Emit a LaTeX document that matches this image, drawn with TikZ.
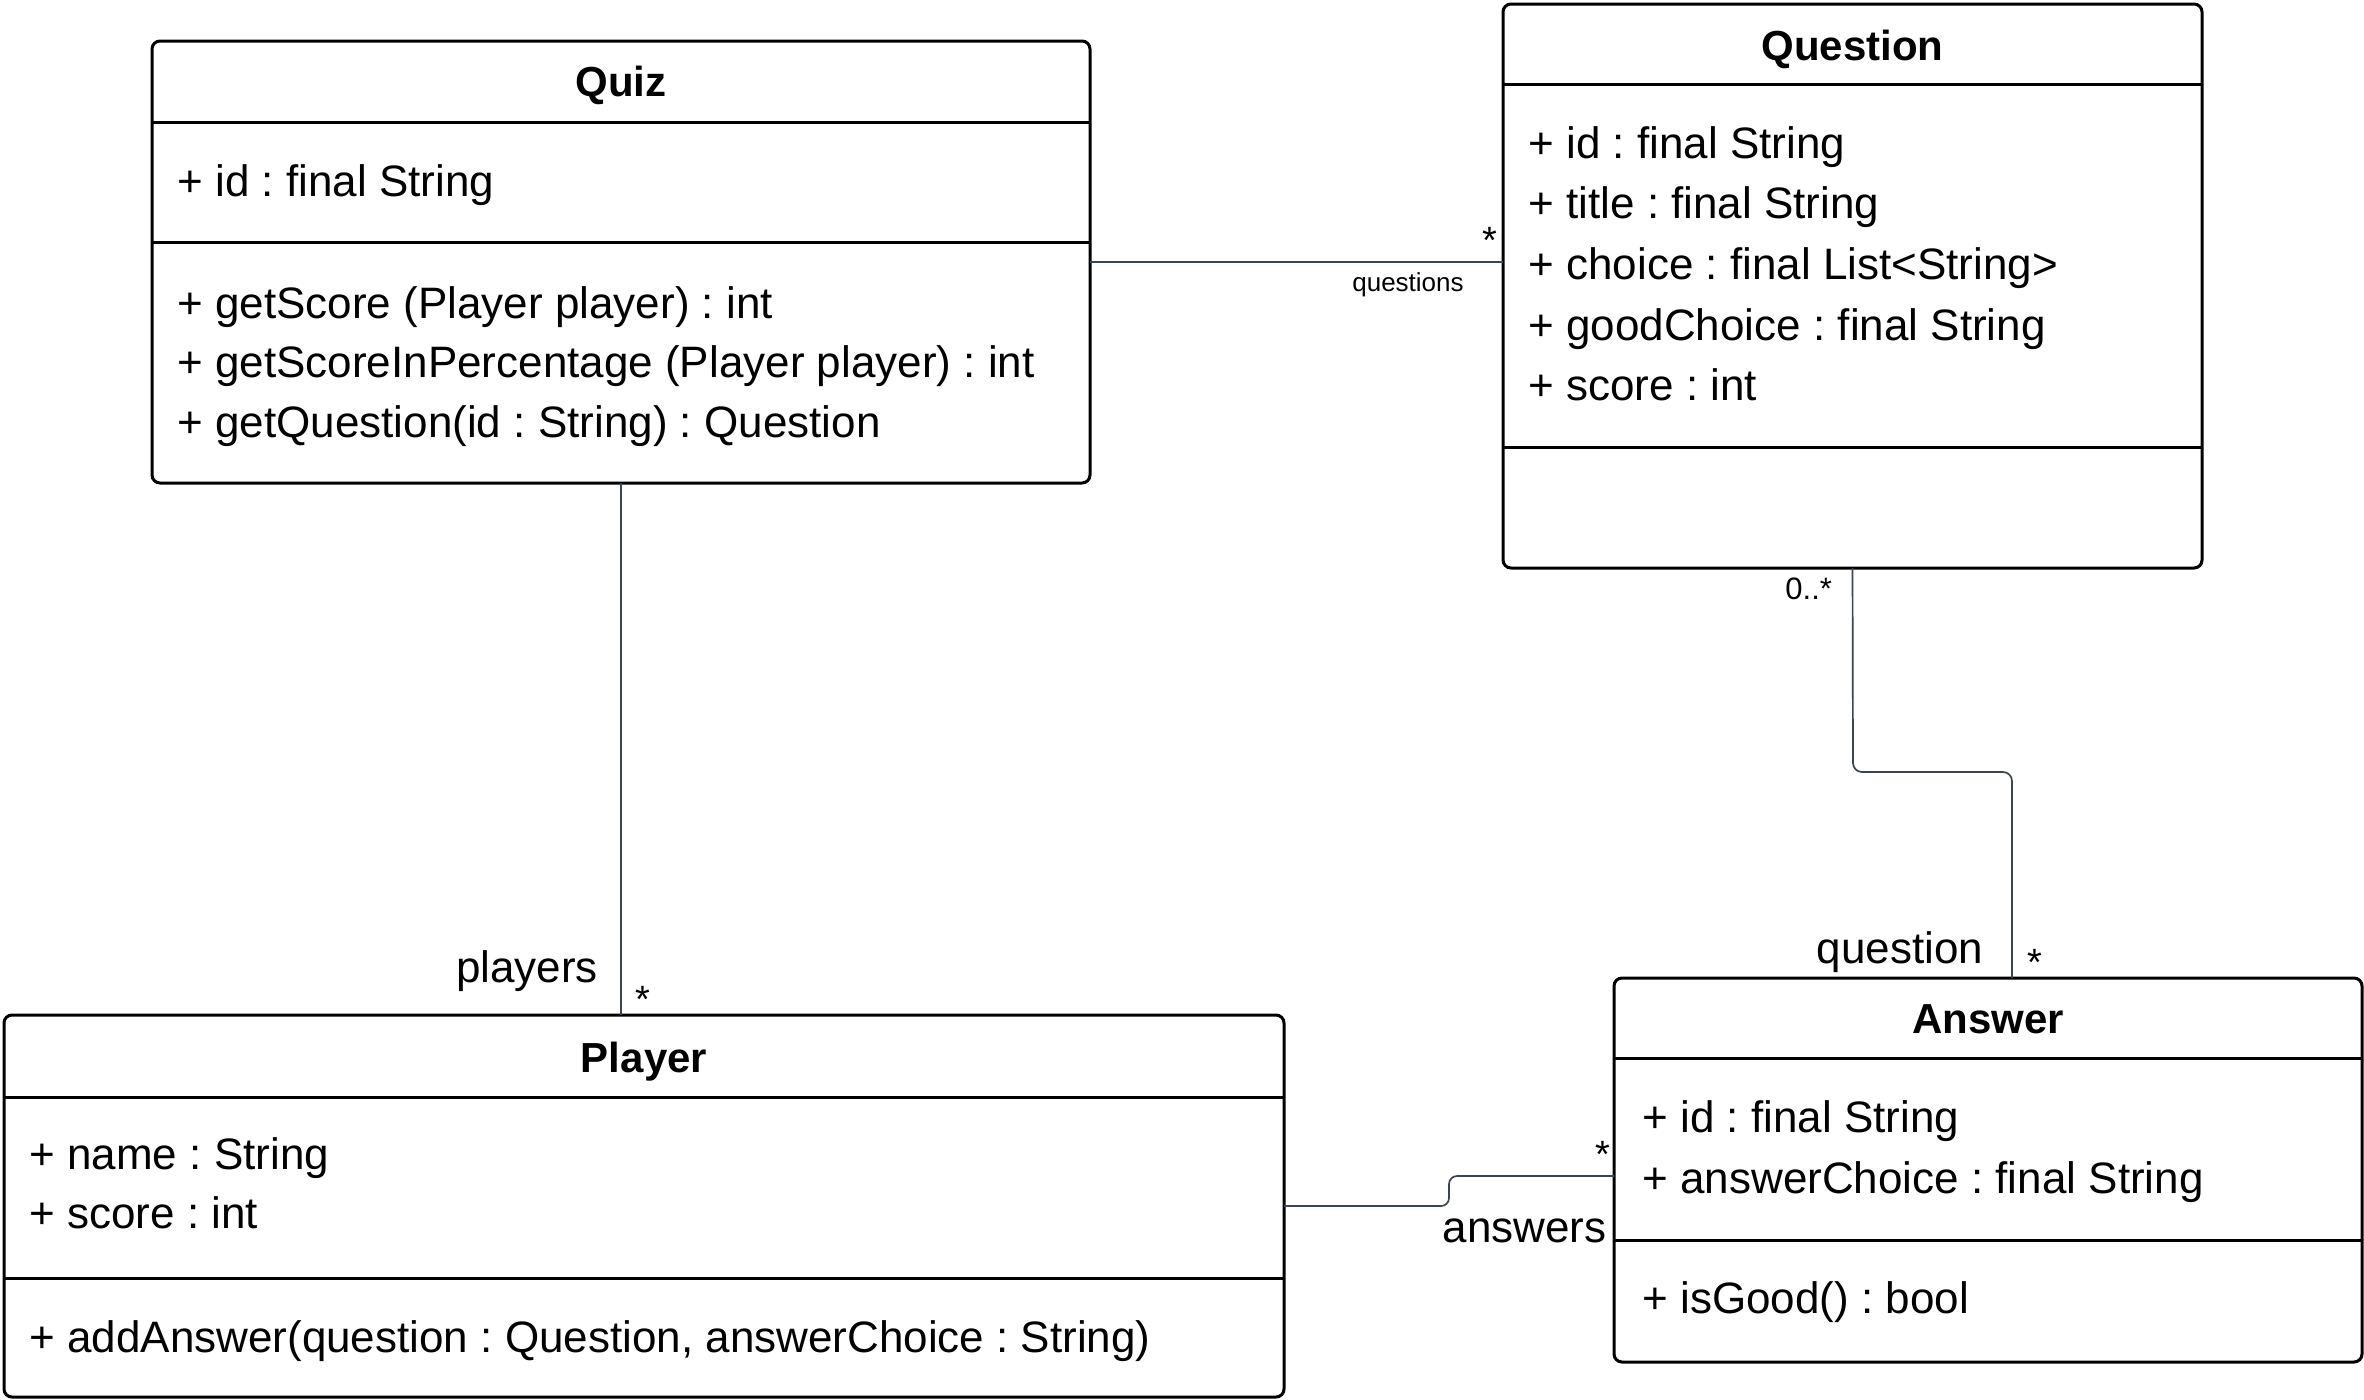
\documentclass[tikz,border=0pt]{standalone}
\usepackage{fontspec}
\setmainfont{Liberation Sans}
\frenchspacing
\definecolor{conncol}{HTML}{3D4451}
\tikzset{
  classbox/.style={draw=black, line width=1.5pt, fill=white, rounded corners=4pt, inner sep=0pt, outer sep=0pt, anchor=north west},
  sepline/.style={draw=black, line width=1.5pt},
  conn/.style={draw=conncol, line width=0.85pt, rounded corners=4.5pt},
  attr/.style={font=\fontsize{22pt}{26pt}\selectfont, inner sep=0pt, anchor=base west},
  classtitle/.style={font=\fontsize{21pt}{25pt}\selectfont\bfseries, inner sep=0pt, anchor=base},
  role/.style={font=\fontsize{22pt}{26pt}\selectfont, inner sep=0pt, anchor=base},
  smallrole/.style={font=\fontsize{13pt}{15pt}\selectfont, inner sep=0pt, anchor=base},
  mult/.style={font=\fontsize{19pt}{21pt}\selectfont, inner sep=0pt, anchor=base},
}
\begin{document}
\begin{tikzpicture}[x=0.5pt,y=-0.5pt]
\useasboundingbox[fill=white] (0,0) rectangle (2364,1399);

% ---- boxes
\node[classbox, minimum width=469pt, minimum height=221pt] (quiz) at (152,41) {};
\node[classbox, minimum width=349.5pt, minimum height=282pt] (question) at (1503,4) {};
\node[classbox, minimum width=640pt, minimum height=191pt] (player) at (4,1015) {};
\node[classbox, minimum width=374pt, minimum height=192pt] (answer) at (1614,978) {};

% ---- separators
\draw[sepline] (152,122) -- (1090,122);
\draw[sepline] (152,242) -- (1090,242);
\draw[sepline] (1503,84) -- (2202,84);
\draw[sepline] (1503,447) -- (2202,447);
\draw[sepline] (4,1097) -- (1284,1097);
\draw[sepline] (4,1278) -- (1284,1278);
\draw[sepline] (1614,1058) -- (2362,1058);
\draw[sepline] (1614,1240) -- (2362,1240);

% ---- Quiz
\node[classtitle] (quizT) at (621,96) {Quiz};
\node[attr] (quizA1) at (177,196) {+ id : final String};
\node[attr] (quizM1) at (177,318) {+ getScore (Player player) : int};
\node[attr] (quizM2) at (177,377) {+ getScoreInPercentage (Player player) : int};
\node[attr] (quizM3) at (177,437) {+ getQuestion(id : String) : Question};

% ---- Question
\node[classtitle] (questionT) at (1852.5,60) {Question};
\node[attr] (questionA1) at (1528,158) {+ id : final String};
\node[attr] (questionA2) at (1528,218) {+ title : final String};
\node[attr] (questionA3) at (1528,279) {+ choice : final List<String>};
\node[attr] (questionA4) at (1528,340) {+ goodChoice : final String};
\node[attr] (questionA5) at (1528,400) {+ score : int};

% ---- Player
\node[classtitle] (playerT) at (644,1072) {Player};
\node[attr] (playerA1) at (29,1169) {+ name : String};
\node[attr] (playerA2) at (29,1228) {+ score : int};
\node[attr] (playerM1) at (29,1352) {+ addAnswer(question : Question, answerChoice : String)};

% ---- Answer
\node[classtitle] (answerT) at (1988,1033) {Answer};
\node[attr] (answerA1) at (1642,1132) {+ id : final String};
\node[attr] (answerA2) at (1642,1193) {+ answerChoice : final String};
\node[attr] (answerM1) at (1642,1313) {+ isGood() : bool};

% ---- connectors
\draw[conn] (quiz.east) -- (quiz.east -| question.west);
\draw[conn] (quiz.south) -- (quiz.south |- player.north);
\coordinate (qa1) at (1853,772);
\coordinate (qa2) at (2012,772);
\draw[conn] (question.south) -- (qa1) -- (qa2) -- (qa2 |- answer.north);
\coordinate (pa1) at (1449,1206);
\coordinate (pa2) at (1449,1176);
\draw[conn, rounded corners=4pt] (player.east) -- (pa1) -- (pa2) -- (pa2 -| answer.west);

% ---- labels
\node[mult] (m1) at (1490,253) {*};
\node[smallrole] (r1) at (1408,291) {questions};
\node[role] (r2) at (527,982) {players};
\node[mult] (m2) at (643,1012) {*};
\node[mult, anchor=base west, font=\fontsize{15.5pt}{17pt}\selectfont] (m3) at (1785,599) {0..*};
\node[role] (r3) at (1900,963) {question};
\node[mult] (m4) at (2035,975) {*};
\node[role, anchor=base east] (r4) at (1607,1242) {answers};
\node[mult] (m5) at (1603,1167) {*};
\end{tikzpicture}
\end{document}
